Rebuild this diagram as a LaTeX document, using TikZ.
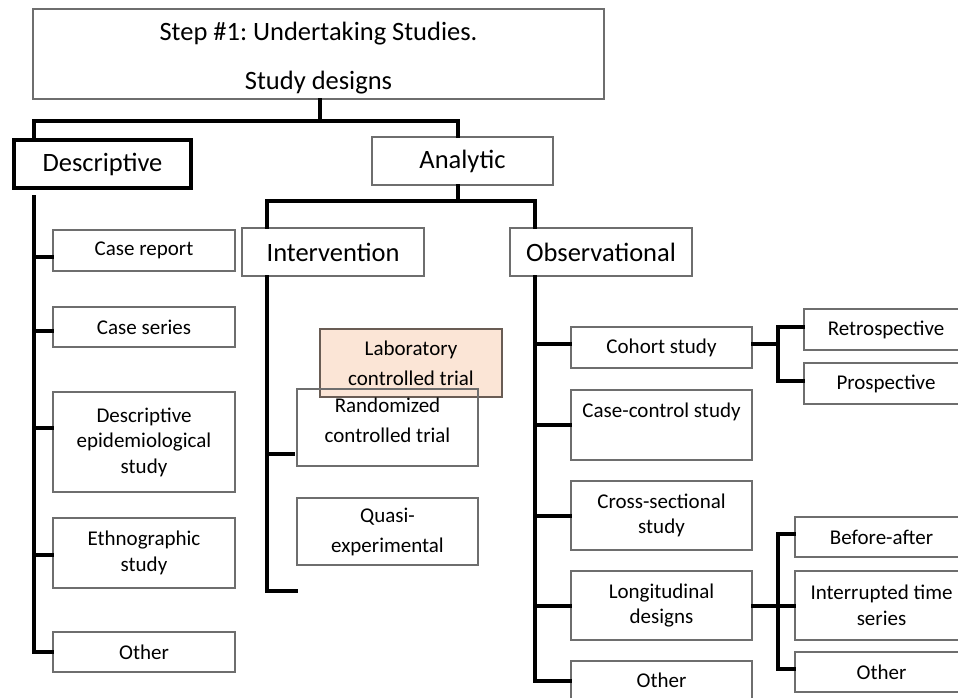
\documentclass[tikz,border=0pt]{standalone}
\usepackage{fontspec}
\setmainfont{Carlito}
\frenchspacing
\usetikzlibrary{calc}
\definecolor{boxline}{RGB}{110,110,110}
\definecolor{labfill}{RGB}{251,229,214}
\definecolor{labline}{RGB}{105,92,84}
\begin{document}
\begin{tikzpicture}[x=1pt,y=-1pt,
  sbox/.style={draw=boxline,line width=1.3pt,rectangle,inner sep=0pt,align=center,
    font=\fontsize{21}{25.5}\selectfont},
  wbox/.style={sbox,font=\fontsize{21}{30}\selectfont},
  bbox/.style={sbox,font=\fontsize{26.5}{32}\selectfont},
  conn/.style={draw=black,line width=4pt,line cap=rect,line join=miter}]
\useasboundingbox (0,0) rectangle (958,698);
\clip (0,0) rectangle (958,698);

% header box with its two lines of text
\node[bbox,minimum width=571pt,minimum height=90pt] (top) at (318.5,54) {};
\node[font=\fontsize{26.5}{32}\selectfont,anchor=base,inner sep=0pt] (title) at (318.5,41) {Step \#1: Undertaking Studies.};
\node[font=\fontsize{26.5}{32}\selectfont,anchor=base,inner sep=0pt] (sub) at (318.5,90) {Study designs};

% second level
\node[bbox,draw=black,line width=4.5pt,minimum width=177pt,minimum height=48pt] (desc) at (102.5,164) {Descriptive};
\node[bbox,minimum width=181pt,minimum height=48pt] (anal) at (462.5,161) {Analytic};

% third level
\node[bbox,minimum width=182pt,minimum height=48pt] (iv) at (333,252) {Intervention};
\node[bbox,minimum width=182pt,minimum height=48pt] (ob) at (601,252) {Observational};

% descriptive branch
\node[sbox,minimum width=182pt,minimum height=41pt] (dcr) at (144,250.5) {Case report};
\node[sbox,minimum width=182pt,minimum height=40pt] (dcs) at (144,327) {Case series};
\node[sbox,minimum width=182pt,minimum height=100pt] (depi) at (144,442) {Descriptive\\epidemiological\\study};
\node[sbox,minimum width=182pt,minimum height=70pt] (deth) at (144,553) {Ethnographic\\study};
\node[sbox,minimum width=182pt,minimum height=40pt] (doth) at (144,652) {Other};

% intervention branch
\node[wbox,draw=labline,fill=labfill,minimum width=182pt,minimum height=68pt] (lab) at (411,363) {Laboratory\\controlled trial};
\node[wbox,text depth=15pt,minimum width=181pt,minimum height=77pt] (rct) at (387.5,427.5) {Randomized\\controlled trial};
\node[wbox,minimum width=181pt,minimum height=67pt] (quasi) at (387.5,531.5) {Quasi-\\experimental};

% observational branch
\node[sbox,minimum width=181pt,minimum height=41pt] (coh) at (661.5,347.5) {Cohort study};
\node[sbox,minimum width=181pt,minimum height=70pt] (cc) at (661.5,425) {Case-control study\\[4pt]\mbox{}};
\node[sbox,minimum width=181pt,minimum height=69pt] (cs) at (661.5,515.5) {Cross-sectional\\study};
\node[sbox,minimum width=181pt,minimum height=69pt] (lon) at (661.5,605.5) {Longitudinal\\designs};
\node[sbox,minimum width=181pt,minimum height=39pt] (ooth) at (661.5,680.5) {Other};

% cohort sub-types
\node[sbox,minimum width=164pt,minimum height=41pt] (retro) at (886,329.5) {Retrospective};
\node[sbox,minimum width=164pt,minimum height=41pt] (prosp) at (886,383.5) {Prospective};

% longitudinal sub-types
\node[sbox,minimum width=173pt,minimum height=40pt] (ba) at (881.5,537) {Before-after};
\node[sbox,minimum width=173pt,minimum height=69pt] (its) at (881.5,605.5) {Interrupted time\\series};
\node[sbox,minimum width=173pt,minimum height=40pt] (loth) at (881.5,672) {Other};

% spine anchor points
\coordinate (dsp) at ($(desc.south west)+(22,7)$);
\coordinate (isp) at ($(iv.south west)+(26,0)$);
\coordinate (osp) at ($(ob.south west)+(26,0)$);

% top level connectors
\draw[conn] ($(top.south)+(1.5,0)$) -- ++(0,21) coordinate (jtop);
\draw[conn] ($(desc.north west)+(22,0)$) |- (jtop) -| ($(anal.north)+(-4.5,0)$);

% analytic to intervention / observational
\draw[conn] ($(anal.south)+(-4.5,0)$) -- ++(0,15) coordinate (jan);
\draw[conn] (isp |- iv.north) |- (jan) -| (osp |- ob.north);

% descriptive spine
\draw[conn] (dsp) |- (doth.west);
\draw[conn] ($(dcr.west)+(0,6.5)$) -- (dsp |- {$(dcr.west)+(0,6.5)$});
\draw[conn] ($(dcs.west)+(0,4)$) -- (dsp |- {$(dcs.west)+(0,4)$});
\draw[conn] ($(depi.west)+(0,-14)$) -- (dsp |- {$(depi.west)+(0,-14)$});
\draw[conn] ($(deth.west)+(0,2)$) -- (dsp |- {$(deth.west)+(0,2)$});

% intervention spine
\draw[conn] (isp) |- ($(quasi.south west)+(0,25)$);
\draw[conn] ($(rct.south west)+(-3,-13)$) -- (isp |- {$(rct.south west)+(0,-13)$});

% observational spine
\draw[conn] (osp) |- (ooth.west);
\draw[conn] ($(coh.west)+(0,-3.5)$) -- (osp |- {$(coh.west)+(0,-3.5)$});
\draw[conn] (cc.west) -- (osp |- cc.west);
\draw[conn] (cs.west) -- (osp |- cs.west);
\draw[conn] (lon.west) -- (osp |- lon.west);

% cohort split
\draw[conn] ($(coh.east)+(0,-3.5)$) -- ++(25,0) coordinate (cj);
\draw[conn] ($(retro.west)+(0,-2.5)$) -| (cj) |- ($(prosp.west)+(0,-2.5)$);

% longitudinal split
\draw[conn] (lon.east) -- (its.west);
\coordinate (lj) at ($(lon.east)+(25,0)$);
\draw[conn] ($(ba.west)+(0,-3)$) -| (lj) |- ($(loth.west)+(0,-3)$);
\end{tikzpicture}
\end{document}
